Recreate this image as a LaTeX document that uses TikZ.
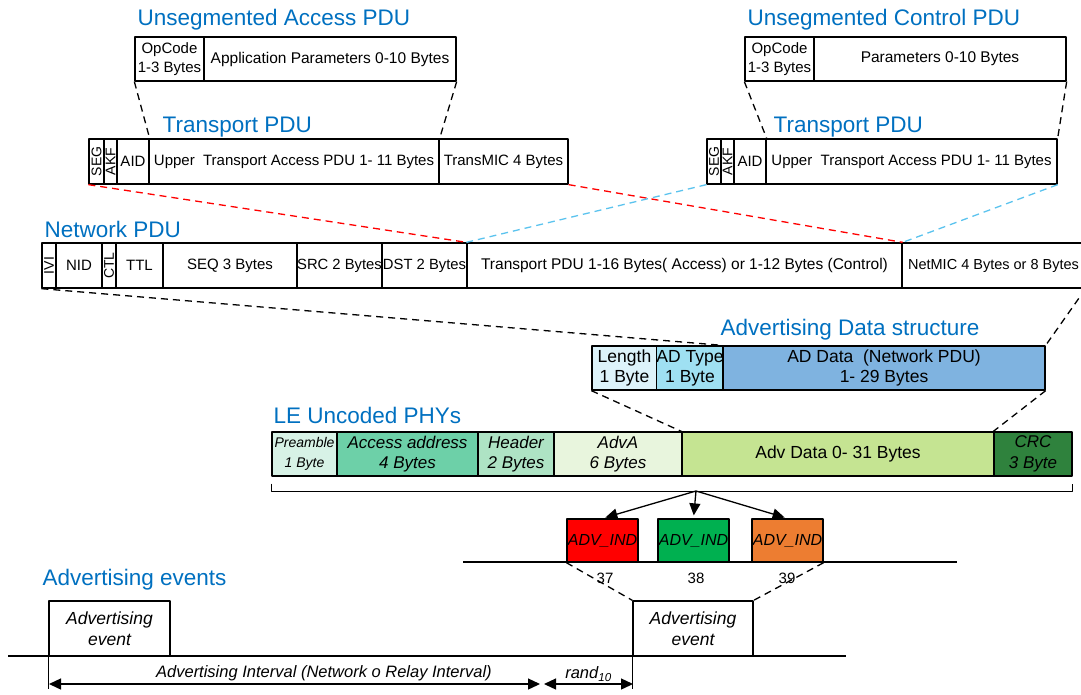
\documentclass[tikz,border=0pt]{standalone}
\usepackage{fontspec}
\setmainfont{Liberation Sans}
\usetikzlibrary{arrows.meta}
\definecolor{ttlblue}{HTML}{0070C0}
\definecolor{lnkblue}{HTML}{5BC3EE}
\definecolor{cLen}{HTML}{DDF3FA}
\definecolor{cType}{HTML}{9FE0F2}
\definecolor{cData}{HTML}{7FB3E0}
\definecolor{cPre}{HTML}{D7F2E6}
\definecolor{cAcc}{HTML}{6DD0A8}
\definecolor{cHdr}{HTML}{AEE3C4}
\definecolor{cAdvA}{HTML}{E8F5DD}
\definecolor{cAdvD}{HTML}{C5E492}
\definecolor{cCrc}{HTML}{2F823D}
\definecolor{cGrn}{HTML}{00B050}
\definecolor{cOrg}{HTML}{ED7D31}
\begin{document}
\begin{tikzpicture}[x=1pt,y=-1pt,line width=1.3pt,line join=round,>={Triangle[length=12pt,width=11pt]},
  fld/.style={draw,inner sep=0pt,align=center,font=\fontsize{15}{19}\selectfont},
  txtB/.style={font=\fontsize{17.5}{20}\selectfont},
  txtI/.style={font=\fontsize{17}{20.5}\selectfont\itshape},
  ttl/.style={anchor=base west,inner sep=0pt,text=ttlblue,font=\fontsize{22.5}{26}\selectfont},
  dsh/.style={dash pattern=on 7pt off 5pt},
  lbl/.style={inner sep=1pt,font=\fontsize{16.5}{19}\selectfont\itshape}]
\useasboundingbox (0,0) rectangle (1081,694);
\def\vsz{\fontsize{14}{14}\selectfont}
% field: name, left, right, options, text (row from \ya to \yb)
\def\fld#1#2#3#4#5{\node[fld,#4,minimum width={(#3-#2)*1pt},minimum height={(\yb-\ya)*1pt}] (#1) at ({(#2+#3)/2},{(\ya+\yb)/2}) {#5};}
% titles
\node[ttl] (tAcc) at (137,25) {Unsegmented Access PDU};
\node[ttl] (tCtl) at (747,25) {Unsegmented Control PDU};
\node[ttl] (tTr1) at (162,132) {Transport PDU};
\node[ttl] (tTr2) at (773,132) {Transport PDU};
\node[ttl] (tNet) at (44,237) {Network PDU};
\node[ttl] (tAD) at (720,335) {Advertising Data structure};
\node[ttl] (tLE) at (273,423) {LE Uncoded PHYs};
\node[ttl] (tEv) at (42,585) {Advertising events};
% unsegmented PDUs
\def\ya{37} \def\yb{81}
\fld{opA}{135}{204}{}{OpCode\\1-3 Bytes}
\fld{parA}{204}{456}{font=\fontsize{15.5}{19}\selectfont}{Application Parameters 0-10 Bytes}
\fld{opC}{745}{814}{}{OpCode\\1-3 Bytes}
\fld{parC}{814}{1066}{font=\fontsize{15.5}{19}\selectfont}{Parameters 0-10 Bytes}
% transport PDUs
\def\ya{139} \def\yb{184}
\fld{seg1}{89}{104}{}{\rotatebox{90}{\vsz SEG}}
\fld{akf1}{104}{117}{}{\rotatebox{90}{\vsz AKF}}
\fld{aid1}{117}{149}{}{AID}
\fld{up1}{149}{439}{}{Upper~ Transport Access PDU 1- 11 Bytes}
\fld{mic1}{439}{568}{}{TransMIC 4 Bytes}
\fld{seg2}{707}{721}{}{\rotatebox{90}{\vsz SEG}}
\fld{akf2}{721}{734}{}{\rotatebox{90}{\vsz AKF}}
\fld{aid2}{734}{766}{}{AID}
\fld{up2}{766}{1057}{}{Upper~ Transport Access PDU 1- 11 Bytes}
% network PDU
\def\ya{243} \def\yb{288}
\fld{ivi}{42}{56}{}{\rotatebox{90}{\vsz IVI}}
\fld{nid}{56}{102}{}{NID}
\fld{ctl}{102}{116}{}{\rotatebox{90}{\vsz CTL}}
\fld{ttl}{116}{163}{}{TTL}
\fld{seq}{163}{297}{}{SEQ 3 Bytes}
\fld{src}{297}{382}{font=\fontsize{14.8}{18}\selectfont}{SRC 2 Bytes}
\fld{dst}{382}{467}{font=\fontsize{14.8}{18}\selectfont}{DST 2 Bytes}
\fld{tpdu}{467}{902}{font=\fontsize{15.5}{19}\selectfont}{Transport PDU 1-16 Bytes( Access) or 1-12 Bytes (Control)}
\fld{nmic}{902}{1085}{font=\fontsize{14.5}{18}\selectfont}{NetMIC 4 Bytes or 8 Bytes}
% advertising data structure
\def\ya{346} \def\yb{390}
\fld{len}{592}{657}{txtB,fill=cLen}{Length\\1 Byte}
\fld{adt}{657}{723}{txtB,fill=cType}{AD Type\\1 Byte}
\fld{add}{723}{1045}{txtB,fill=cData}{AD Data~ (Network PDU)\\1- 29 Bytes}
% LE uncoded PHY packet
\def\ya{432} \def\yb{476}
\fld{pre}{272}{337}{font=\fontsize{14}{19.5}\selectfont\itshape,fill=cPre}{Preamble\\1 Byte}
\fld{acc}{337}{478}{txtI,fill=cAcc}{Access address\\4 Bytes}
\fld{hdr}{478}{554}{txtI,fill=cHdr}{Header\\2 Bytes}
\fld{adva}{554}{682}{txtI,fill=cAdvA}{AdvA\\6 Bytes}
\fld{advd}{682}{994}{txtB,fill=cAdvD}{Adv Data 0- 31 Bytes}
\fld{crc}{994}{1072}{txtI,fill=cCrc}{CRC\\3 Byte}
% ADV_IND on the three channels
\def\ya{519} \def\yb{562}
\fld{ind1}{567}{638}{txtI,font=\fontsize{16}{19}\selectfont\itshape,fill=red}{ADV\_IND}
\fld{ind2}{658}{729}{txtI,font=\fontsize{16}{19}\selectfont\itshape,fill=cGrn}{ADV\_IND}
\fld{ind3}{752}{823}{txtI,font=\fontsize{16}{19}\selectfont\itshape,fill=cOrg}{ADV\_IND}
% advertising events
\def\ya{601} \def\yb{656}
\fld{ev1}{49}{170}{font=\fontsize{17.5}{20.5}\selectfont\itshape}{Advertising\\event}
\fld{ev2}{633}{753}{font=\fontsize{17.5}{20.5}\selectfont\itshape}{Advertising\\event}
% zoom lines
\draw[dsh] (opA.south west) -- (aid1.north east);
\draw[dsh] (parA.south east) -- (up1.north east);
\draw[dsh] (opC.south west) -- (aid2.north east);
\draw[dsh] (parC.south east) -- (up2.north east);
\draw[dsh,red] (seg1.south west) -- (tpdu.north west);
\draw[dsh,red] (mic1.south east) -- (tpdu.north east);
\draw[dsh,lnkblue] (seg2.south west) -- (tpdu.north west);
\draw[dsh,lnkblue] (up2.south east) -- (tpdu.north east);
\draw[dsh] (ivi.south west) -- (add.north west);
\draw[dsh] (nmic.south east) -- (add.north east);
\draw[dsh] (len.south west) -- (advd.north west);
\draw[dsh] (add.south east) -- (crc.north west);
\draw[dsh] (ind1.south west) -- (ev2.north west);
\draw[dsh] (ind3.south east) -- (ev2.north east);
% brace under the packet and arrows to the channels
\draw ([yshift=-7pt]pre.south west) -- ([yshift=-15pt]pre.south west) -| ([yshift=-7pt]crc.south east);
\coordinate (brk) at (696,491);
\draw[->,shorten >=3pt] (brk) -- (ind1.north);
\draw[->,shorten >=3pt] (brk) -- (ind2.north);
\draw[->,shorten >=3pt] (brk) -- (ind3.north);
\coordinate (chL) at (463,562); \coordinate (chR) at (957,562);
\draw (chL) -- (chR);
\node[font=\fontsize{15}{17}\selectfont] (c37) at (605,578) {37};
\node[font=\fontsize{15}{17}\selectfont] (c38) at (696,578) {38};
\node[font=\fontsize{15}{17}\selectfont] (c39) at (787,578) {39};
% time line
\coordinate (t0) at (8,656); \coordinate (t1) at (846,656);
\draw (t0) -- (t1);
\draw (ev1.south west) -- ++(0,32);
\draw (ev2.south west) -- ++(0,32);
\coordinate (a0) at (49,684); \coordinate (a1) at (540,684);
\coordinate (a2) at (544,684); \coordinate (a3) at (633,684);
\draw[<->] (a0) -- (a1) node[lbl,pos=0.56,above=1pt] (lInt) {Advertising Interval (Network o Relay Interval)};
\draw[<->] (a2) -- (a3) node[lbl,midway,above=1pt] (lRnd) {rand\textsubscript{10}};
\end{tikzpicture}
\end{document}
